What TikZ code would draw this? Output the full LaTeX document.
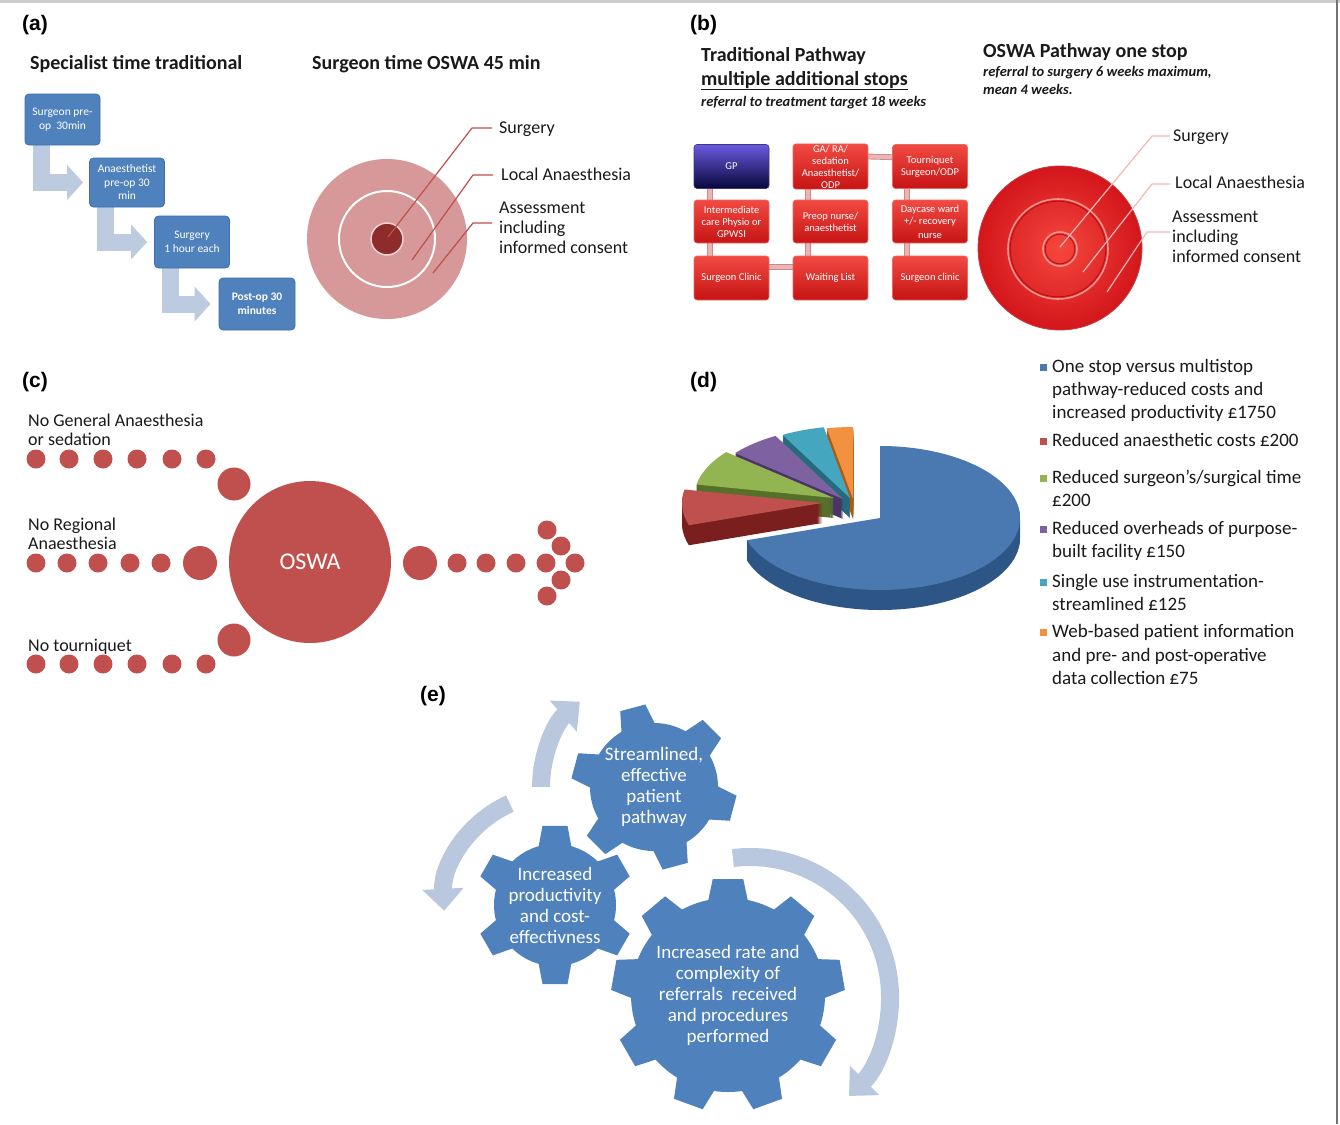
\documentclass[tikz,border=0pt]{standalone}
\usepackage{fontspec}
\setmainfont{Carlito}
\newfontfamily\arialfont{Liberation Sans}
\usetikzlibrary{arrows.meta,calc,backgrounds}

\definecolor{txtc}{HTML}{1A1A1A}
\definecolor{bluebox}{HTML}{4F81BD}
\definecolor{blueedge}{HTML}{3F6FAA}
\definecolor{larrowc}{HTML}{BCCBE0}
\definecolor{leadred}{HTML}{C0504D}
\definecolor{pinkdisc}{HTML}{D69898}
\definecolor{darkcore}{HTML}{8E2B2B}
\definecolor{coreedge}{HTML}{F2D2D2}
\definecolor{rtop}{HTML}{F24A42}
\definecolor{rbot}{HTML}{C61414}
\definecolor{redge}{HTML}{E66A66}
\definecolor{gptop}{HTML}{6A5AE0}
\definecolor{gpbot}{HTML}{07073A}
\definecolor{connpink}{HTML}{EDB4B4}
\definecolor{connedge}{HTML}{C98A8A}
\definecolor{discin}{HTML}{F5473D}
\definecolor{discout}{HTML}{D3161B}
\definecolor{ringlight}{HTML}{F39490}
\definecolor{ringdark}{HTML}{B50D10}
\definecolor{leadpink}{HTML}{F5B8B8}
\definecolor{dotred}{HTML}{C0504D}
\definecolor{pblue}{HTML}{4A78B0}
\definecolor{pblues}{HTML}{2D5585}
\definecolor{pred}{HTML}{C0504D}
\definecolor{preds}{HTML}{7A1F1D}
\definecolor{pgreen}{HTML}{92B451}
\definecolor{pgreens}{HTML}{566F2B}
\definecolor{ppurple}{HTML}{7D61A0}
\definecolor{ppurples}{HTML}{4A3468}
\definecolor{pteal}{HTML}{45A6C0}
\definecolor{pteals}{HTML}{276A7C}
\definecolor{porange}{HTML}{F29140}
\definecolor{poranges}{HTML}{AE5A12}
\definecolor{gearblue}{HTML}{4F81BD}
\definecolor{arcc}{HTML}{B9C8DE}

\newcommand\pieslice[5]{%
  \foreach \dd in {20,19,...,1}{%
    \fill[#5] ($(#1)+(0,\dd)$) -- ++(#2:140 and 72) arc[start angle=#2, end angle=#3, x radius=140, y radius=72] -- cycle;}%
  \fill[#4] (#1) -- ++(#2:140 and 72) arc[start angle=#2, end angle=#3, x radius=140, y radius=72] -- cycle;}

\newcommand\drawgear[7]{%
  \fill[gearblue] (#1) circle[radius=#3];
  \foreach \k in {1,...,#2}{%
    \pgfmathsetmacro\aa{#7+360*\k/#2}%
    \fill[gearblue] ($(#1)+({\aa-#5}:{#3-3})$) -- ($(#1)+({\aa-#6}:#4)$) -- ($(#1)+({\aa+#6}:#4)$) -- ($(#1)+({\aa+#5}:{#3-3})$) -- cycle;}}

\begin{document}
\begin{tikzpicture}[x=1pt,y=-1pt,
  txt/.style={anchor=base west, inner sep=0pt, text=txtc, font=\fontsize{18}{20}\selectfont},
  legtxt/.style={txt, font=\fontsize{19}{23}\selectfont},
  ttl/.style={txt, font=\bfseries\fontsize{20}{24}\selectfont},
  ital/.style={txt, font=\bfseries\itshape\fontsize{14.5}{17}\selectfont},
  plab/.style={txt, text=black, font=\arialfont\bfseries\fontsize{21}{24}\selectfont},
  abox/.style={rounded corners=4pt, fill=bluebox, draw=blueedge, line width=0.8pt, text=white, align=center, inner sep=1pt, font=\fontsize{11.5}{13.5}\selectfont},
  larrow/.style={draw=larrowc, line width=17pt, line join=miter, -{Triangle[length=16pt,width=34pt]}},
  rbox/.style={rounded corners=3pt, top color=rtop, bottom color=rbot, draw=redge, line width=0.6pt, text=white, align=center, minimum width=75pt, minimum height=44pt, inner sep=1pt, font=\fontsize{10.5}{12}\selectfont},
  gpbox/.style={rbox, top color=gptop, bottom color=gpbot, draw=gptop!60!black},
  bconn/.style={draw=connedge, line width=0.9pt, double=connpink, double distance=4pt},
  leadA/.style={draw=leadred, line width=1.2pt},
  leadB/.style={draw=leadpink, line width=1.2pt},
  arcarr/.style={draw=arcc, line width=18pt, -{Triangle[length=22pt,width=40pt]}},
  geartxt/.style={text=white, align=center, inner sep=0pt, font=\fontsize{19}{21}\selectfont}
]
\useasboundingbox (0,0) rectangle (1340,1124);
\begin{scope}[on background layer]
  \fill[white] (0,0) rectangle (1340,1124);
\end{scope}
\fill[black!20] (0,0) rectangle (1340,3);
\fill[black!55] (1336,0) rectangle (1338,1124);

% panel labels
\node[plab] (la) at (22,31) {(a)};
\node[plab] (lb) at (690,31) {(b)};
\node[plab] (lc) at (22,387) {(c)};
\node[plab] (ld) at (690,387) {(d)};
\node[plab] (le) at (420,701) {(e)};

% ---------------- panel (a)
\node[ttl] (ta1) at (30,70) {Specialist time traditional};
\node[ttl] (ta2) at (312,70) {Surgeon time OSWA 45 min};

\node[abox, minimum width=75pt, minimum height=51pt] (b1) at (62.5,119.5) {Surgeon pre-\\op\ \ 30min};
\node[abox, minimum width=75pt, minimum height=49pt] (b2) at (127,182.5) {Anaesthetist\\pre-op 30\\min};
\node[abox, minimum width=75pt, minimum height=52pt] (b3) at (192,242) {Surgery\\1 hour each};
\node[abox, minimum width=76pt, minimum height=52pt, font=\bfseries\fontsize{11.5}{13.5}\selectfont] (b4) at (257,304) {Post-op 30\\minutes};
\begin{scope}[on background layer]
  \draw[larrow] ($(b1.south west)+(16.5,0)$) |- ($(b2.west)+(-6,0)$);
  \draw[larrow] ($(b2.south west)+(16.5,0)$) |- ($(b3.west)+(-7,0)$);
  \draw[larrow] ($(b3.south west)+(16.5,0)$) |- ($(b4.west)+(-8,0)$);
\end{scope}

\coordinate (tA) at (387,239);
\fill[pinkdisc] (tA) circle[radius=80];
\draw[white, line width=2pt] (tA) circle[radius=48];
\fill[darkcore] (tA) circle[radius=16];
\draw[coreedge, line width=1.5pt] (tA) circle[radius=16];
\draw[leadA] (388,237) -- (472,128) -- (492,128);
\draw[leadA] (412,260) -- (473,175) -- (493,175);
\draw[leadA] (433,273) -- (473,223) -- (492,223);
\node[txt] (sA) at (499,133) {Surgery};
\node[txt] (lA) at (501,180) {Local Anaesthesia};
\node[txt] (aA1) at (499,213) {Assessment};
\node[txt] (aA2) at (499,233) {including};
\node[txt] (aA3) at (499,253) {informed consent};

% ---------------- panel (b)
\node[ttl] (tp1) at (701,61) {Traditional Pathway};
\node[ttl] (tp2) at (701,85) {multiple additional stops};
\draw[txtc, line width=1.4pt] ($(tp2.base west)+(0,4.5)$) -- ($(tp2.base east)+(0,4.5)$);
\node[ital] (tp3) at (701,106.5) {referral to treatment target 18 weeks};
\node[ttl] (op1) at (983,58) {OSWA Pathway one stop};
\node[ital] (op2) at (983,76.5) {referral to surgery 6 weeks maximum,};
\node[ital] (op3) at (983,94.5) {mean 4 weeks.};

\node[gpbox] (gp) at (731.5,166.5) {GP};
\node[rbox] (ga) at (830.5,166.5) {GA/ RA/\\sedation\\Anaesthetist/\\ODP};
\node[rbox] (tq) at (930,166.5) {Tourniquet\\Surgeon/ODP};
\node[rbox, minimum height=43pt] (im) at (731.5,221.5) {Intermediate\\care Physio or\\GPWSI};
\node[rbox, minimum height=43pt] (pn) at (830.5,221.5) {Preop nurse/\\anaesthetist};
\node[rbox, minimum height=43pt] (dw) at (930,221.5) {Daycase ward\\+/- recovery\\[2pt]nurse};
\node[rbox] (sc) at (731.5,278) {Surgeon Clinic};
\node[rbox] (wl) at (830.5,278) {Waiting List};
\node[rbox] (sc2) at (930,278) {Surgeon clinic};
\begin{scope}[on background layer]
  \draw[bconn] ($(gp.south west)+(16,0)$) -- ($(im.north west)+(16,0)$);
  \draw[bconn] ($(im.south west)+(16,0)$) -- ($(sc.north west)+(16,0)$);
  \draw[bconn] ($(sc.north east)+(0,11)$) -- ($(wl.north west)+(0,11)$);
  \draw[bconn] ($(wl.north west)+(15,0)$) -- ($(pn.south west)+(15,0)$);
  \draw[bconn] ($(pn.north west)+(15,0)$) -- ($(ga.south west)+(15,0)$);
  \draw[bconn] ($(ga.north east)+(0,13)$) -- ($(tq.north west)+(0,13)$);
  \draw[bconn] ($(tq.south west)+(15,0)$) -- ($(dw.north west)+(15,0)$);
  \draw[bconn] ($(dw.south west)+(15,0)$) -- ($(sc2.north west)+(15,0)$);
\end{scope}

\coordinate (tB) at (1060,248);
\shade[inner color=discin, outer color=discout] (tB) circle[radius=82];
\draw[ringdark!80, line width=0.8pt] (tB) circle[radius=82];
\draw[ringlight, line width=1.6pt] (1058,249) circle[radius=50];
\draw[ringdark, line width=0.8pt] (1058,249) circle[radius=47.8];
\draw[ringlight, line width=1.6pt] (1060,249) circle[radius=17];
\draw[ringdark, line width=0.8pt] (1060,249) circle[radius=14.8];
\draw[leadB] (1060,247) -- (1152,136) -- (1170,136);
\draw[leadB] (1083,272) -- (1152,184) -- (1170,184);
\draw[leadB] (1107,292) -- (1147,232) -- (1170,232);
\node[txt] (sB) at (1173,141) {Surgery};
\node[txt] (lB) at (1175,188) {Local Anaesthesia};
\node[txt] (aB1) at (1172,222) {Assessment};
\node[txt] (aB2) at (1172,242) {including};
\node[txt] (aB3) at (1172,262) {informed consent};

% ---------------- panel (c)
\node[txt] (c1) at (28,426) {No General Anaesthesia};
\node[txt] (c2) at (28,445) {or sedation};
\node[txt] (c3) at (28,530) {No Regional};
\node[txt] (c4) at (28,549) {Anaesthesia};
\node[txt] (c5) at (28,651) {No tourniquet};
\foreach \x in {36,69,103,137,172,206}{%
  \fill[dotred] (\x,459) circle[radius=9.5];
  \fill[dotred] (\x,664) circle[radius=9.5];}
\foreach \x in {36,67,98,130,161} \fill[dotred] (\x,563) circle[radius=9.5];
\fill[dotred] (234,484) circle[radius=16.5];
\fill[dotred] (234,640) circle[radius=16.5];
\fill[dotred] (200,563) circle[radius=17];
\node[circle, fill=dotred, minimum size=162pt, inner sep=0pt, text=white, font=\fontsize{24}{28}\selectfont] (oswa) at (310,562) {OSWA};
\fill[dotred] (420,563) circle[radius=17];
\foreach \x in {457,486,516,546,575} \fill[dotred] (\x,563) circle[radius=9.5];
\foreach \p in {(547,530),(561,546),(561,580),(547,596)} \fill[dotred] \p circle[radius=9.5];

% ---------------- panel (d)
\pieslice{853,499}{259.2}{270}{porange}{poranges}
\pieslice{850,498}{241.2}{259.2}{pteal}{pteals}
\pieslice{843,499}{219.6}{241.2}{ppurple}{ppurples}
\pieslice{834,498}{190.8}{219.6}{pgreen}{pgreens}
\pieslice{822,503}{162}{190.8}{pred}{preds}
\pieslice{880,518}{-90}{162}{pblue}{pblues}

\foreach \yy/\cc in {367/pblue,441/pred,478/pgreen,529/ppurple,582/pteal,632/porange}
  \fill[\cc] (1040,\yy-3.5) rectangle ++(7,7);
\node[legtxt] (d1) at (1052,372.5) {One stop versus multistop};
\node[legtxt] (d2) at (1052,395.5) {pathway-reduced costs and};
\node[legtxt] (d3) at (1052,418.5) {increased productivity £1750};
\node[legtxt] (d4) at (1052,446.5) {Reduced anaesthetic costs £200};
\node[legtxt] (d5) at (1052,483.5) {Reduced surgeon's/surgical time};
\node[legtxt] (d6) at (1052,506.5) {£200};
\node[legtxt] (d7) at (1052,534.5) {Reduced overheads of purpose-};
\node[legtxt] (d8) at (1052,557.5) {built facility £150};
\node[legtxt] (d9) at (1052,587.5) {Single use instrumentation-};
\node[legtxt] (d10) at (1052,610.5) {streamlined £125};
\node[legtxt] (d11) at (1052,637.5) {Web-based patient information};
\node[legtxt] (d12) at (1052,661.5) {and pre- and post-operative};
\node[legtxt] (d13) at (1052,684.5) {data collection £75};

% ---------------- panel (e)
\coordinate (g1) at (654,787);
\coordinate (g2) at (555,905);
\coordinate (g3) at (728,995);
\coordinate (a3c) at (750,997);
\draw[arcarr] ($(g1)+(180:113)$) arc[start angle=180, end angle=229, radius=113];
\draw[arcarr] ($(g2)+(246:111)$) arc[start angle=246, end angle=177, radius=111];
\draw[arcarr] ($(a3c)+(-97:140)$) arc[start angle=-97, end angle=45, radius=140];

\drawgear{g1}{6}{64}{83}{17}{9}{-105}
\drawgear{g2}{6}{61}{80}{17}{9}{-90}
\drawgear{g3}{9}{97}{117}{12.5}{7.5}{-90}

\node[geartxt] (g1t) at (g1) {Streamlined,\\effective\\patient\\pathway};
\node[geartxt] (g2t) at (g2) {Increased\\productivity\\and cost-\\effectivness};
\node[geartxt] (g3t) at (g3) {Increased rate and\\complexity of\\referrals\ \ received\\and procedures\\performed};
\end{tikzpicture}
\end{document}
